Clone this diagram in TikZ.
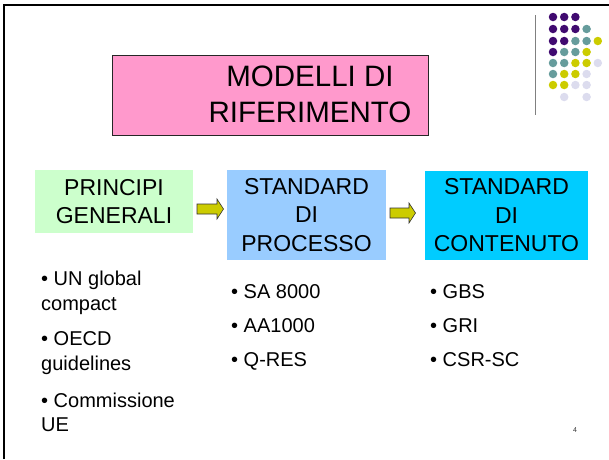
\documentclass[tikz,border=0pt]{standalone}
\usepackage{fontspec}
\setmainfont{Liberation Sans}
\begin{document}
\begin{tikzpicture}[x=1pt,y=-1pt,
  boxtxt/.style={font=\fontsize{23}{28.5}\selectfont, align=center, inner sep=0pt},
  item/.style={font=\fontsize{20}{24}\selectfont, anchor=base west, inner sep=0pt},
  blockarrow/.style={fill=arrowyellow, draw=black!80, line width=0.6pt},
  dot/.style={circle, minimum size=8.5pt, inner sep=0pt}]
\definecolor{pinkbox}{HTML}{FF99CC}
\definecolor{greenbox}{HTML}{CCFFCC}
\definecolor{bluebox}{HTML}{99CCFF}
\definecolor{cyanbox}{HTML}{00CCFF}
\definecolor{arrowyellow}{HTML}{CCCC00}
\definecolor{dP}{HTML}{400A70}
\definecolor{dT}{HTML}{669C9C}
\definecolor{dY}{HTML}{CCCC00}
\definecolor{dL}{HTML}{DCDCEE}
\useasboundingbox (0,0) rectangle (609,459);
% frame
\draw[line width=2.5pt] (4,459) -- (4,5) -- (609,5);
\draw[gray, line width=1pt] (535,15) -- (535,115);
% dots
\foreach \row/\cols in {17/{1/dP,2/dP,3/dP},
                        29/{1/dP,2/dP,3/dP,4/dT},
                        41/{1/dP,2/dP,3/dT,4/dT,5/dY},
                        52/{1/dP,2/dT,3/dT,4/dY},
                        63/{1/dT,2/dT,3/dY,4/dY,5/dL},
                        74/{1/dT,2/dY,3/dY,4/dL},
                        85/{1/dY,2/dY,3/dL,4/dL},
                        97/{2/dL,4/dL}} {
  \foreach \c/\col in \cols {
    \node[dot, fill=\col] at ({553+(\c-1)*11.2},\row) {};
  }
}
% title
\node[draw=black!85, line width=0.8pt, fill=pinkbox, minimum width=316pt, minimum height=80pt,
      inner sep=0pt] (titlebox) at (270,95) {};
\node[font=\fontsize{29.5}{36}\selectfont, align=center, inner sep=0pt] (title) at (310,94.5)
      {MODELLI DI\\RIFERIMENTO};
% boxes
\node[fill=greenbox, minimum width=158pt, minimum height=63pt, boxtxt] (pg) at (114,201.5)
      {PRINCIPI\\GENERALI};
\node[fill=bluebox, minimum width=159pt, minimum height=90pt, boxtxt] (sp) at (306.5,215)
      {STANDARD\\DI\\PROCESSO};
\node[fill=cyanbox, minimum width=163pt, minimum height=89pt, boxtxt] (sc) at (506.5,215.5)
      {STANDARD\\DI\\CONTENUTO};
% arrows
\draw[blockarrow] (197,204) -- (217,204) -- (217,199) -- (223.5,209) -- (217,219) -- (217,214) -- (197,214) -- cycle;
\draw[blockarrow] (390,208) -- (409,208) -- (409,203) -- (415.5,213) -- (409,223) -- (409,218) -- (390,218) -- cycle;
% items column 1
\node[item] (a1) at (41,285) {\textbullet\ UN global};
\node[item] (a2) at (41,310) {compact};
\node[item] (b1) at (41,345) {\textbullet\ OECD};
\node[item] (b2) at (41,370) {guidelines};
\node[item] (c1) at (41,407) {\textbullet\ Commissione};
\node[item] (c2) at (41,431) {UE};
% items column 2
\node[item] (d1) at (231,298) {\textbullet\ SA 8000};
\node[item] (d2) at (231,332) {\textbullet\ AA1000};
\node[item] (d3) at (231,366) {\textbullet\ Q-RES};
% items column 3
\node[item] (e1) at (430,298) {\textbullet\ GBS};
\node[item] (e2) at (430,332) {\textbullet\ GRI};
\node[item] (e3) at (430,366) {\textbullet\ CSR-SC};
% page number
\node[font=\fontsize{7}{8}\selectfont, inner sep=0pt, text=black!80] (pn) at (575,430) {4};
\end{tikzpicture}
\end{document}
